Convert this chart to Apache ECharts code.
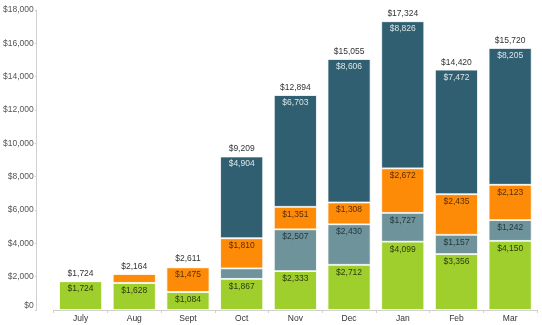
<!DOCTYPE html>
<html><head><meta charset="utf-8">
<script src="https://cdn.jsdelivr.net/npm/echarts@6/dist/echarts.min.js"></script>
<style>html,body{margin:0;padding:0;background:#fff}#c{width:542px;height:325px}</style>
</head><body><div id="c"></div>
<script>
var categories = ['July','Aug','Sept','Oct','Nov','Dec','Jan','Feb','Mar'];
var greenVals  = [1724, 1628, 1084, 1867, 2333, 2712, 4099, 3356, 4150];
var grayVals   = [0, 0, 0, 628, 2507, 2430, 1727, 1157, 1242];
var orangeVals = [0, 536, 1475, 1810, 1351, 1308, 2672, 2435, 2123];
var darkVals   = [0, 0, 52, 4904, 6703, 8606, 8826, 7472, 8205];
var totals     = [1724, 2164, 2611, 9209, 12894, 15055, 17324, 14420, 15720];
var yTicks = [0, 2000, 4000, 6000, 8000, 10000, 12000, 14000, 16000, 18000];

function money(v){ return '$' + Math.round(v).toLocaleString('en-US'); }
var FONT = 'Liberation Sans';
function seg(name, data, color, labelColor, minShow){
  return {
    name: name, type: 'bar', stack: 'a', data: data, barWidth: 43,
    itemStyle: { color: color, borderColor: '#ffffff', borderWidth: 0.8 },
    label: { show: true, position: 'insideTop', distance: 3, fontFamily: FONT, fontSize: 8.5,
      color: labelColor,
      formatter: function(p){ return p.value >= minShow ? money(p.value) : ''; } }
  };
}
var chart = echarts.init(document.getElementById('c'));
chart.setOption({
  animation: false,
  grid: { left: 51, right: 5, top: 10, bottom: 15 },
  xAxis: {
    type: 'category', data: categories,
    axisLine: { lineStyle: { color: '#d0d0d0' } },
    axisTick: { show: true, length: 3, lineStyle: { color: '#d0d0d0' } },
    axisLabel: { fontFamily: FONT, fontSize: 8.5, color: '#333', margin: 4 }
  },
  yAxis: {
    type: 'value', min: 0, max: 18000, interval: 2000, offset: 17,
    axisLine: { show: true, lineStyle: { color: '#d0d0d0' } },
    axisTick: { show: true, length: 2, lineStyle: { color: '#d0d0d0' } },
    splitLine: { show: false },
    axisLabel: { fontFamily: FONT, fontSize: 8.5, color: '#555', margin: 3,
      verticalAlignMinLabel: 'bottom',
      formatter: function(v){ return yTicks.indexOf(v) >= 0 ? money(v) : ''; } }
  },
  series: [
    seg('A', greenVals, '#9fcf2c', '#2f3a12', 300),
    seg('B', grayVals, '#6e939a', '#25383e', 800),
    seg('C', orangeVals, '#fd8b07', '#5a2e00', 800),
    seg('D', darkVals, '#2f5f70', '#dbe6ea', 800),
    { name: 'Total', type: 'bar', stack: 'a', barWidth: 43,
      data: totals.map(function(){ return 0; }),
      itemStyle: { color: 'transparent', borderWidth: 0 },
      label: { show: true, position: 'top', distance: 3, fontFamily: FONT, fontSize: 8.5, color: '#333',
        formatter: function(p){ return money(totals[p.dataIndex]); } } }
  ]
});
</script></body></html>
